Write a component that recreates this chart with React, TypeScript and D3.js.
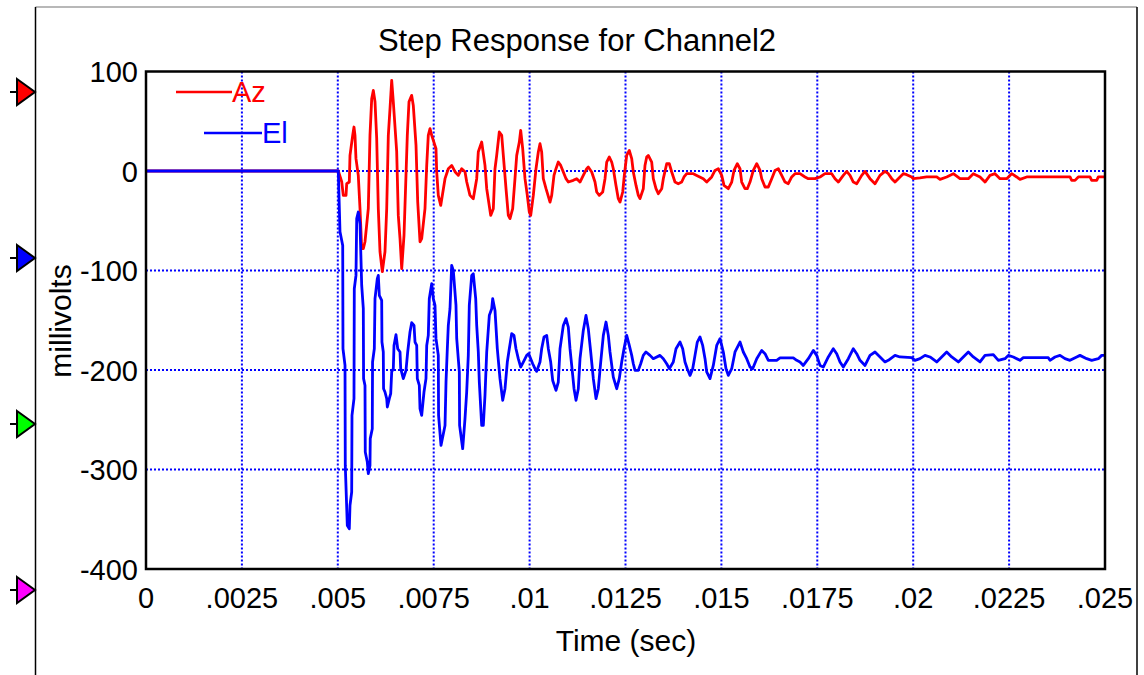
import React from "react";
import * as d3 from "d3";

const title = "Step Response for Channel2";
const xLabel = "Time (sec)";
const yLabel = "millivolts";

const xTickValues = [0, 0.0025, 0.005, 0.0075, 0.01, 0.0125, 0.015, 0.0175, 0.02, 0.0225, 0.025];
const xTickLabels = ["0", ".0025", ".005", ".0075", ".01", ".0125", ".015", ".0175", ".02", ".0225", ".025"];
const yTickValues = [100, 0, -100, -200, -300, -400];
const yTickLabels = ["100", "0", "-100", "-200", "-300", "-400"];

const seriesNames = ["Az", "El"];
const seriesColors = ["#ff0000", "#0000ff"];
const markerColors = ["#ff0000", "#0000ff", "#00ff00", "#ff00ff"];

// Az (red) trace: time in ms, value in mV
const azTimeMs = [0, 5.013, 5.102, 5.143, 5.214, 5.232, 5.3, 5.318, 5.388, 5.422, 5.448, 5.474, 5.534, 5.579, 5.623, 5.665, 5.709, 5.795, 5.839, 5.884, 5.926, 5.97, 6.014, 6.056, 6.1, 6.16, 6.23, 6.275, 6.317, 6.361, 6.405, 6.447, 6.535, 6.577, 6.622, 6.666, 6.726, 6.812, 6.856, 6.926, 6.968, 7.039, 7.083, 7.143, 7.187, 7.273, 7.318, 7.359, 7.404, 7.448, 7.56, 7.578, 7.62, 7.683, 7.795, 7.881, 7.969, 8.055, 8.141, 8.23, 8.316, 8.36, 8.446, 8.532, 8.621, 8.663, 8.751, 8.837, 8.882, 8.986, 9.054, 9.098, 9.142, 9.21, 9.273, 9.315, 9.385, 9.445, 9.489, 9.559, 9.619, 9.664, 9.732, 9.768, 9.82, 9.88, 9.94, 9.992, 10.029, 10.097, 10.167, 10.227, 10.271, 10.315, 10.357, 10.428, 10.532, 10.576, 10.636, 10.688, 10.748, 10.811, 10.879, 10.949, 11.009, 11.139, 11.228, 11.314, 11.4, 11.489, 11.53, 11.619, 11.705, 11.749, 11.817, 11.906, 11.966, 12.01, 12.078, 12.14, 12.182, 12.252, 12.312, 12.357, 12.427, 12.469, 12.531, 12.599, 12.662, 12.704, 12.774, 12.834, 12.878, 12.964, 13.008, 13.053, 13.094, 13.183, 13.225, 13.295, 13.355, 13.444, 13.486, 13.574, 13.642, 13.705, 13.79, 13.876, 13.965, 14.025, 14.096, 14.268, 14.356, 14.528, 14.617, 14.747, 14.833, 14.919, 15.008, 15.068, 15.18, 15.269, 15.329, 15.415, 15.485, 15.529, 15.615, 15.675, 15.746, 15.832, 15.921, 16.007, 16.051, 16.137, 16.223, 16.312, 16.397, 16.484, 16.572, 16.658, 16.744, 16.833, 16.919, 17.049, 17.179, 17.266, 17.44, 17.571, 17.701, 17.876, 17.962, 18.048, 18.178, 18.267, 18.353, 18.439, 18.527, 18.658, 18.744, 18.874, 19.004, 19.135, 19.265, 19.351, 19.44, 19.526, 19.656, 19.742, 19.83, 19.961, 20.003, 20.177, 20.352, 20.613, 20.699, 20.873, 21.046, 21.22, 21.437, 21.567, 21.742, 21.872, 22.002, 22.132, 22.263, 22.437, 22.568, 22.698, 22.784, 22.959, 24.088, 24.132, 24.218, 24.304, 24.609, 24.653, 24.784, 24.826, 25.0];
const azValue = [0, 0, -10.8, -24.5, -24.5, -12.8, -11.1, 15.7, 35.8, 44.2, 35.8, 12.4, -4.4, -37.9, -78.1, -78.1, -71.1, -37.9, 35.8, 72.7, 81.0, 69.6, 32.5, -37.9, -81.1, -101.2, -81.1, -37.9, 35.8, 62.6, 91.1, 69.6, 19.4, -44.6, -68.0, -98.2, -64.7, 35.8, 69.6, 76.0, 65.9, 25.7, -30.9, -71.1, -68.0, -37.9, 5.6, 35.8, 42.5, 35.8, 22.4, -0.7, -24.5, -34.6, -7.7, 2.3, 5.6, -0.7, -4.4, 2.3, -0.7, -10.8, -24.5, -27.8, -7.7, 19.4, 29.1, 5.6, -17.8, -44.6, -37.9, 2.3, 15.7, 39.2, 35.8, 15.7, -17.8, -44.6, -47.9, -37.9, -7.7, 15.7, 29.1, 40.8, 22.4, -7.7, -24.5, -41.2, -44.6, -24.5, 2.3, 19.1, 27.4, 19.1, -7.7, -17.8, -31.2, -24.5, -4.4, 2.3, 9.0, 5.6, -1.0, -7.7, -11.1, -9.4, -7.7, -11.1, -4.4, 2.3, 4.0, -1.0, -11.1, -21.1, -24.5, -21.1, -7.7, 9.0, 14.1, 9.0, 2.3, -14.5, -27.8, -31.2, -21.1, -4.4, 15.7, 20.7, 12.4, -1.0, -14.5, -24.5, -27.8, -17.8, 5.6, 14.1, 15.7, 9.0, -7.7, -17.8, -22.8, -17.8, -7.7, 7.3, 7.3, -1.0, -11.1, -12.8, -11.1, -6.0, -2.7, -2.7, -4.4, -7.7, -11.1, -6.0, 0.6, 2.3, -4.4, -14.5, -17.8, -11.1, 0.6, 7.3, 2.3, -11.1, -17.8, -17.8, -11.1, 0.6, 7.3, 0.6, -7.7, -16.1, -16.1, -7.7, 0.6, 2.3, -4.4, -11.1, -12.8, -6.0, -2.7, -2.7, -6.0, -7.7, -7.7, -6.0, -2.7, -2.7, -7.7, -11.1, -4.4, -0.4, -4.4, -11.1, -12.8, -4.4, -0.4, -7.7, -12.8, -4.4, -0.4, -2.7, -7.7, -11.1, -6.0, -2.7, -3.7, -6.0, -7.7, -7.0, -6.0, -6.0, -8.4, -6.0, -2.7, -7.7, -7.7, -2.7, -6.0, -11.1, -4.4, -2.7, -7.7, -7.7, -2.7, -6.0, -8.4, -6.0, -6.0, -9.4, -9.4, -6.0, -6.0, -9.4, -9.4, -6.0, -6.0];

// El (blue) trace: time in ms, value in mV
const elTimeMs = [0, 5.013, 5.057, 5.128, 5.135, 5.188, 5.195, 5.248, 5.3, 5.318, 5.362, 5.37, 5.422, 5.43, 5.474, 5.493, 5.534, 5.579, 5.623, 5.665, 5.672, 5.709, 5.716, 5.769, 5.795, 5.839, 5.846, 5.899, 5.906, 5.952, 5.97, 6.03, 6.056, 6.082, 6.144, 6.151, 6.186, 6.193, 6.23, 6.275, 6.291, 6.343, 6.379, 6.405, 6.447, 6.465, 6.517, 6.562, 6.622, 6.64, 6.708, 6.778, 6.822, 6.882, 6.926, 6.987, 7.013, 7.057, 7.073, 7.125, 7.143, 7.187, 7.247, 7.299, 7.318, 7.359, 7.385, 7.448, 7.49, 7.534, 7.56, 7.62, 7.627, 7.69, 7.795, 7.821, 7.855, 7.881, 7.925, 7.969, 8.011, 8.081, 8.1, 8.168, 8.175, 8.256, 8.316, 8.36, 8.402, 8.428, 8.491, 8.532, 8.595, 8.621, 8.663, 8.689, 8.751, 8.793, 8.837, 8.882, 8.95, 9.012, 9.038, 9.098, 9.158, 9.228, 9.299, 9.359, 9.419, 9.471, 9.533, 9.593, 9.645, 9.705, 9.768, 9.836, 9.924, 9.977, 10.01, 10.081, 10.141, 10.185, 10.271, 10.315, 10.375, 10.446, 10.488, 10.55, 10.602, 10.688, 10.748, 10.793, 10.879, 10.949, 11.009, 11.053, 11.124, 11.158, 11.21, 11.27, 11.314, 11.4, 11.47, 11.53, 11.593, 11.661, 11.731, 11.791, 11.854, 11.922, 11.992, 12.052, 12.096, 12.182, 12.271, 12.338, 12.401, 12.461, 12.531, 12.599, 12.662, 12.704, 12.748, 12.834, 12.896, 12.964, 13.034, 13.139, 13.225, 13.399, 13.486, 13.574, 13.642, 13.746, 13.817, 13.921, 13.991, 14.051, 14.111, 14.182, 14.252, 14.312, 14.372, 14.442, 14.512, 14.573, 14.617, 14.703, 14.789, 14.878, 14.964, 15.05, 15.12, 15.18, 15.269, 15.355, 15.485, 15.571, 15.66, 15.746, 15.815, 15.921, 16.051, 16.137, 16.223, 16.441, 16.528, 16.875, 16.963, 17.049, 17.135, 17.266, 17.396, 17.484, 17.571, 17.656, 17.787, 17.917, 18.006, 18.092, 18.178, 18.309, 18.439, 18.527, 18.613, 18.744, 18.874, 19.004, 19.135, 19.265, 19.351, 19.526, 19.656, 19.961, 20.047, 20.177, 20.308, 20.438, 20.613, 20.743, 20.873, 21.004, 21.177, 21.306, 21.437, 21.567, 21.742, 21.872, 22.089, 22.219, 22.393, 22.479, 22.61, 22.784, 22.87, 23.522, 23.566, 23.697, 23.827, 23.957, 24.088, 24.262, 24.348, 24.523, 24.653, 24.826, 24.914, 25.0];
const elValue = [0, 0, -61.0, -74.8, -178.6, -195.4, -295.9, -356.2, -359.5, -336.1, -322.6, -245.6, -228.8, -118.3, -104.9, -47.9, -41.2, -53.0, -115.0, -138.4, -208.7, -215.5, -282.4, -292.5, -304.2, -295.9, -269.0, -259.0, -192.0, -178.6, -128.3, -108.2, -104.9, -125.0, -130.1, -171.9, -181.9, -218.8, -222.1, -228.8, -237.2, -228.8, -223.8, -202.0, -198.7, -175.3, -164.5, -178.6, -181.9, -198.7, -208.7, -200.4, -181.9, -161.8, -152.5, -155.2, -171.9, -175.3, -208.7, -215.5, -238.9, -245.6, -222.1, -208.7, -175.3, -165.2, -128.3, -113.3, -128.3, -135.1, -168.5, -185.3, -245.6, -275.8, -255.7, -212.1, -178.6, -155.2, -138.4, -94.9, -99.9, -135.1, -168.5, -202.0, -255.7, -279.1, -248.9, -222.1, -185.3, -135.1, -104.9, -103.2, -128.3, -155.2, -181.9, -212.1, -255.7, -255.7, -225.5, -181.9, -145.1, -138.4, -128.3, -140.1, -178.6, -208.7, -230.5, -218.8, -192.0, -178.6, -163.5, -165.2, -178.6, -188.6, -197.0, -192.0, -185.3, -183.6, -186.9, -193.7, -198.7, -201.4, -192.0, -178.6, -166.8, -165.2, -178.6, -192.0, -210.5, -220.5, -212.1, -178.6, -155.2, -148.4, -156.8, -178.6, -205.4, -218.8, -230.5, -218.8, -188.6, -160.2, -145.1, -158.5, -181.9, -208.7, -228.8, -218.8, -192.0, -165.2, -151.8, -165.2, -181.9, -207.1, -218.8, -208.7, -192.0, -178.6, -165.2, -175.3, -185.3, -193.7, -200.4, -200.4, -193.7, -185.3, -181.9, -185.3, -188.6, -185.3, -188.6, -193.7, -198.7, -192.0, -178.6, -171.9, -178.6, -192.0, -198.7, -205.4, -198.7, -185.3, -171.9, -166.8, -175.3, -188.6, -202.0, -208.7, -195.4, -175.3, -168.5, -181.9, -198.7, -205.4, -198.7, -181.9, -171.9, -181.9, -188.6, -197.0, -198.7, -188.6, -180.3, -183.6, -190.3, -190.3, -187.9, -187.9, -190.3, -192.0, -195.4, -188.6, -180.3, -185.3, -195.4, -197.0, -186.9, -178.6, -183.6, -192.0, -197.0, -188.6, -178.6, -183.6, -190.3, -195.4, -185.3, -181.9, -186.9, -191.9, -190.3, -185.3, -186.9, -187.6, -190.3, -188.6, -185.3, -186.9, -191.9, -186.9, -181.9, -186.9, -191.9, -186.9, -181.9, -186.9, -191.9, -185.3, -184.6, -190.3, -188.6, -185.3, -186.9, -190.3, -187.6, -187.6, -190.3, -186.9, -185.3, -188.6, -190.3, -186.9, -185.3, -188.6, -190.3, -188.6, -185.3, -185.3];

const FONT = "'Liberation Sans', Arial, Helvetica, sans-serif";

export default function App() {
  const W = 1144;
  const H = 675;
  const plot = { left: 146, right: 1105, top: 71.5, bottom: 569 };

  const x = d3.scaleLinear().domain([0, 0.025]).range([plot.left, plot.right]);
  const y = d3.scaleLinear().domain([-400, 100]).range([plot.bottom, plot.top]);

  const line = d3
    .line<[number, number]>()
    .x((d) => x(d[0] / 1000))
    .y((d) => y(d[1]));

  const azData: [number, number][] = azTimeMs.map((t, i) => [t, azValue[i]]);
  const elData: [number, number][] = elTimeMs.map((t, i) => [t, elValue[i]]);

  const gridX = xTickValues.slice(1, -1);
  const gridY = yTickValues.slice(1, -1);

  const markerY = [92, 258, 424, 590];

  return (
    <svg
      width={W}
      height={H}
      style={{ position: "absolute", left: 0, top: 0, background: "#fff" }}
      fontFamily={FONT}
    >
      <rect x={0} y={0} width={W} height={H} fill="#fff" />
      {/* outer frame */}
      <line x1={35.5} y1={7} x2={1137} y2={7} stroke="#a0a0a0" strokeWidth={1.5} />
      <line x1={35.5} y1={7} x2={35.5} y2={H} stroke="#000" strokeWidth={1.5} />
      <line x1={1137} y1={7} x2={1137} y2={H} stroke="#000" strokeWidth={1.5} />

      {/* side markers */}
      {markerColors.map((c, i) => (
        <g key={"m" + i}>
          <line x1={10} y1={markerY[i]} x2={18} y2={markerY[i]} stroke="#000" strokeWidth={2} />
          <path
            d={`M17,${markerY[i] - 13} L35,${markerY[i]} L17,${markerY[i] + 13} Z`}
            fill={c}
            stroke="#000"
            strokeWidth={2}
            strokeLinejoin="miter"
          />
        </g>
      ))}

      {/* title */}
      <text x={577} y={51} textAnchor="middle" fontSize={31} fill="#000">
        {title}
      </text>

      {/* grid */}
      {gridX.map((v) => (
        <line
          key={"gx" + v}
          x1={x(v)}
          x2={x(v)}
          y1={plot.top}
          y2={plot.bottom}
          stroke="#0000ff"
          strokeWidth={2}
          strokeDasharray="2,2"
        />
      ))}
      {gridY.map((v) => (
        <line
          key={"gy" + v}
          x1={plot.left}
          x2={plot.right}
          y1={y(v)}
          y2={y(v)}
          stroke="#0000ff"
          strokeWidth={2}
          strokeDasharray="2,2"
        />
      ))}

      {/* data */}
      <path d={line(azData) || ""} fill="none" stroke={seriesColors[0]} strokeWidth={2.8} strokeLinejoin="round" />
      <path d={line(elData) || ""} fill="none" stroke={seriesColors[1]} strokeWidth={2.8} strokeLinejoin="round" />

      {/* plot border */}
      <rect
        x={plot.left}
        y={plot.top}
        width={plot.right - plot.left}
        height={plot.bottom - plot.top}
        fill="none"
        stroke="#000"
        strokeWidth={2.5}
      />

      {/* y tick labels */}
      {yTickValues.map((v, i) => (
        <text key={"yt" + v} x={138} y={y(v) + 10.5} textAnchor="end" fontSize={29} fill="#000">
          {yTickLabels[i]}
        </text>
      ))}
      {/* x tick labels */}
      {xTickValues.map((v, i) => (
        <text key={"xt" + v} x={x(v)} y={608} textAnchor="middle" fontSize={29} fill="#000">
          {xTickLabels[i]}
        </text>
      ))}

      {/* axis titles */}
      <text x={626} y={651} textAnchor="middle" fontSize={30} fill="#000">
        {xLabel}
      </text>
      <text
        transform={`translate(71,321) rotate(-90)`}
        textAnchor="middle"
        fontSize={30}
        fill="#000"
      >
        {yLabel}
      </text>

      {/* legend */}
      <line x1={176} y1={92} x2={232} y2={92} stroke={seriesColors[0]} strokeWidth={2.5} />
      <text x={232} y={102} fontSize={29} fill={seriesColors[0]}>
        {seriesNames[0]}
      </text>
      <line x1={204} y1={133} x2={262} y2={133} stroke={seriesColors[1]} strokeWidth={2.5} />
      <text x={262} y={143} fontSize={29} fill={seriesColors[1]}>
        {seriesNames[1]}
      </text>
    </svg>
  );
}
